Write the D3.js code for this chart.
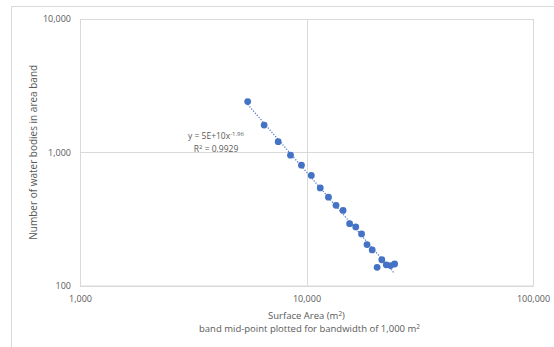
<!DOCTYPE html>
<meta charset="utf-8">
<style>
    body {
        margin: 0;
        background: #fff;
    }

    text {
        font-family: 'Open Sans', sans-serif;
        fill: #595959;
    }

    .grid line {
        stroke: #d9d9d9;
    }

    .axis path,
    .axis line {
        display: none;
    }

    .dot {
        fill: #4472c4;
    }
</style>
<svg width="554" height="347"></svg>
<script src="https://d3js.org/d3.v7.min.js"></script>
<script>
    // band mid-points (m2) and number of water bodies per band
    var areas = [5500, 6500, 7500, 8500, 9500, 10500, 11500, 12500, 13500, 14500,
        15500, 16500, 17500, 18500, 19500, 20500, 21500, 22500, 23500, 24500];
    var counts = [2400, 1600, 1200, 950, 800, 670, 540, 460, 400, 366,
        291, 275, 244, 203, 185, 137, 156, 143, 141, 145];

    var xTicks = [1000, 10000, 100000],
        yTicks = [100, 1000, 10000];

    var eqnText = 'y = 5E+10x',
        eqnPower = '-1.96',
        r2Text = '= 0.9929';

    var svg = d3.select('svg'),
        margin = { top: 19, right: 21, bottom: 61.5, left: 80 },
        width = +svg.attr('width') - margin.left - margin.right,
        height = +svg.attr('height') - margin.top - margin.bottom;

    // outer chart border (cut off on the right and bottom)
    svg.append('rect')
        .attr('x', 11.5).attr('y', 6.5)
        .attr('width', 600).attr('height', 400)
        .attr('fill', 'none')
        .attr('stroke', '#d9d9d9');

    var x = d3.scaleLog().domain([1000, 100000]).range([0, width]),
        y = d3.scaleLog().domain([100, 10000]).range([height, 0]);

    var g = svg.append('g')
        .attr('transform', 'translate(' + margin.left + ',' + margin.top + ')');

    // gridlines
    g.append('g')
        .attr('class', 'grid')
        .selectAll('line.h')
        .data(yTicks)
        .enter().append('line')
        .attr('x1', 0).attr('x2', width)
        .attr('y1', d => Math.round(y(d)) + 0.5).attr('y2', d => Math.round(y(d)) + 0.5);

    g.append('g')
        .attr('class', 'grid')
        .selectAll('line.v')
        .data(xTicks)
        .enter().append('line')
        .attr('y1', 0).attr('y2', height)
        .attr('x1', d => Math.round(x(d)) + 0.5).attr('x2', d => Math.round(x(d)) + 0.5);

    // axes (labels only)
    g.append('g')
        .attr('class', 'axis axis--x')
        .attr('transform', 'translate(0,' + height + ')')
        .call(d3.axisBottom(x).tickValues(xTicks).tickFormat(d3.format(',')).tickSize(0).tickPadding(10))
        .selectAll('text')
        .attr('font-size', 9)
        .attr('font-family', null);

    g.append('g')
        .attr('class', 'axis axis--y')
        .call(d3.axisLeft(y).tickValues(yTicks).tickFormat(d3.format(',')).tickSize(0).tickPadding(9))
        .selectAll('text')
        .attr('font-size', 9)
        .attr('font-family', null);

    // trendline: least squares fit in log-log space
    var lx = areas.map(Math.log),
        ly = counts.map(Math.log),
        mx = d3.mean(lx),
        my = d3.mean(ly),
        b = d3.sum(lx, (v, i) => (v - mx) * (ly[i] - my)) / d3.sum(lx, v => (v - mx) * (v - mx)),
        a = Math.exp(my - b * mx);

    var ext = d3.extent(areas);
    g.append('line')
        .attr('x1', x(ext[0])).attr('y1', y(a * Math.pow(ext[0], b)))
        .attr('x2', x(ext[1])).attr('y2', y(a * Math.pow(ext[1], b)))
        .attr('stroke', '#4472c4')
        .attr('stroke-width', 1.2)
        .attr('stroke-dasharray', '1.2,1.6');

    g.selectAll('.dot')
        .data(areas)
        .enter().append('circle')
        .attr('class', 'dot')
        .attr('cx', d => x(d))
        .attr('cy', (d, i) => y(counts[i]))
        .attr('r', 3.4);

    // plot area border
    g.append('rect')
        .attr('x', 0.5).attr('y', 0.5)
        .attr('width', width).attr('height', height)
        .attr('fill', 'none')
        .attr('stroke', '#d9d9d9');

    // trendline equation
    var eq = g.append('text')
        .attr('x', 136).attr('y', 120)
        .attr('text-anchor', 'middle')
        .attr('font-size', 8.5);
    eq.append('tspan').text(eqnText);
    eq.append('tspan').attr('dy', -3.5).attr('font-size', 6).text(eqnPower);

    var r2 = g.append('text')
        .attr('x', 136).attr('y', 133)
        .attr('text-anchor', 'middle')
        .attr('font-size', 8.5);
    r2.append('tspan').text('R');
    r2.append('tspan').attr('dy', -3.5).attr('font-size', 6).text('2');
    r2.append('tspan').attr('dy', 3.5).text(' ' + r2Text);

    // axis titles
    var xt = svg.append('text')
        .attr('x', margin.left + width / 2)
        .attr('y', 319)
        .attr('text-anchor', 'middle')
        .attr('font-size', 9.5);
    xt.append('tspan').text('Surface Area (m');
    xt.append('tspan').attr('dy', -3).attr('font-size', 6.5).text('2');
    xt.append('tspan').attr('dy', 3).text(')');

    var xt2 = svg.append('text')
        .attr('x', margin.left + width / 2 + 3)
        .attr('y', 332)
        .attr('text-anchor', 'middle')
        .attr('font-size', 9.5);
    xt2.append('tspan').text('band mid-point plotted for bandwidth of 1,000 m');
    xt2.append('tspan').attr('dy', -3).attr('font-size', 6.5).text('2');

    svg.append('text')
        .attr('transform', 'translate(37,' + (margin.top + height / 2) + ') rotate(-90)')
        .attr('text-anchor', 'middle')
        .attr('font-size', 10)
        .text('Number of water bodies in area band');
</script>
